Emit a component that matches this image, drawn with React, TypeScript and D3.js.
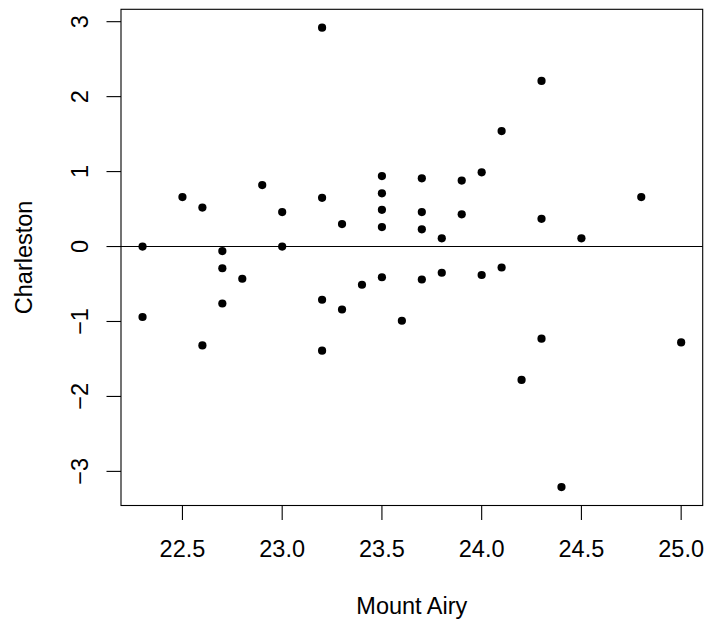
import React from "react";
import * as d3 from "d3";

// Paired observations: Mount Airy (x) vs Charleston (y)
const mountAiry = [
  22.3, 22.3, 22.5, 22.6, 22.6, 22.7, 22.7, 22.7, 22.8, 22.9,
  23.0, 23.0, 23.2, 23.2, 23.2, 23.2, 23.3, 23.3, 23.4, 23.5,
  23.5, 23.5, 23.5, 23.5, 23.6, 23.7, 23.7, 23.7, 23.7, 23.8,
  23.8, 23.9, 23.9, 24.0, 24.0, 24.1, 24.1, 24.2, 24.3, 24.3,
  24.3, 24.4, 24.5, 24.8, 25.0,
];
const charleston = [
  0.0, -0.94, 0.66, 0.52, -1.32, -0.06, -0.29, -0.76, -0.43, 0.82,
  0.46, 0.0, 2.92, 0.65, -0.71, -1.39, 0.3, -0.84, -0.51, 0.94,
  0.71, 0.49, 0.26, -0.41, -0.99, 0.91, 0.46, 0.23, -0.44, 0.11,
  -0.35, 0.88, 0.43, 0.99, -0.38, 1.54, -0.28, -1.78, 2.21, 0.37,
  -1.23, -3.21, 0.11, 0.66, -1.28,
];
const xTicks = [22.5, 23.0, 23.5, 24.0, 24.5, 25.0];
const yTicks = [-3, -2, -1, 0, 1, 2, 3];
const xLabel = "Mount Airy";
const yLabel = "Charleston";

const W = 709;
const H = 620;
const box = { left: 121, right: 702.7, top: 9.3, bottom: 505.5 };
const FONT = "'Liberation Sans', Arial, Helvetica, sans-serif";
const FS = 23.5;

// R-style axis range: data extent padded by 4% on each side
function padded(values: number[]): [number, number] {
  const [lo, hi] = d3.extent(values) as [number, number];
  const pad = (hi - lo) * 0.04;
  return [lo - pad, hi + pad];
}

export default function App() {
  const x = d3.scaleLinear().domain(padded(mountAiry)).range([box.left, box.right]);
  const y = d3.scaleLinear().domain(padded(charleston)).range([box.bottom, box.top]);
  const points = mountAiry.map((v, i) => ({ x: v, y: charleston[i] }));
  const tick = 14.5;
  const fmtY = (v: number) => (v < 0 ? "\u2212" + Math.abs(v) : String(v));

  return (
    <svg
      width={W}
      height={H}
      style={{ position: "absolute", left: 0, top: 0, background: "#fff" }}
      fontFamily={FONT}
    >
      <rect x={0} y={0} width={W} height={H} fill="#fff" />
      {/* reference line at zero */}
      <line
        x1={box.left}
        x2={box.right}
        y1={y(0)}
        y2={y(0)}
        stroke="#000"
        strokeWidth={1.1}
      />
      {points.map((p, i) => (
        <circle key={i} cx={x(p.x)} cy={y(p.y)} r={4.1} fill="#000" />
      ))}
      {/* plot frame */}
      <rect
        x={box.left}
        y={box.top}
        width={box.right - box.left}
        height={box.bottom - box.top}
        fill="none"
        stroke="#000"
        strokeWidth={1.1}
      />
      {/* x axis */}
      {xTicks.map((t) => (
        <g key={"x" + t}>
          <line x1={x(t)} x2={x(t)} y1={box.bottom} y2={box.bottom + tick} stroke="#000" strokeWidth={1.1} />
          <text x={x(t)} y={557} fontSize={FS} textAnchor="middle" fill="#000">
            {d3.format(".1f")(t)}
          </text>
        </g>
      ))}
      {/* y axis */}
      {yTicks.map((t) => (
        <g key={"y" + t}>
          <line x1={box.left - tick} x2={box.left} y1={y(t)} y2={y(t)} stroke="#000" strokeWidth={1.1} />
          <text
            transform={`translate(88.3,${y(t)}) rotate(-90)`}
            fontSize={FS}
            textAnchor="middle"
            fill="#000"
          >
            {fmtY(t)}
          </text>
        </g>
      ))}
      <text x={(box.left + box.right) / 2} y={613.5} fontSize={FS} textAnchor="middle" fill="#000">
        {xLabel}
      </text>
      <text
        transform={`translate(31.7,${(box.top + box.bottom) / 2}) rotate(-90)`}
        fontSize={FS}
        textAnchor="middle"
        fill="#000"
      >
        {yLabel}
      </text>
    </svg>
  );
}
